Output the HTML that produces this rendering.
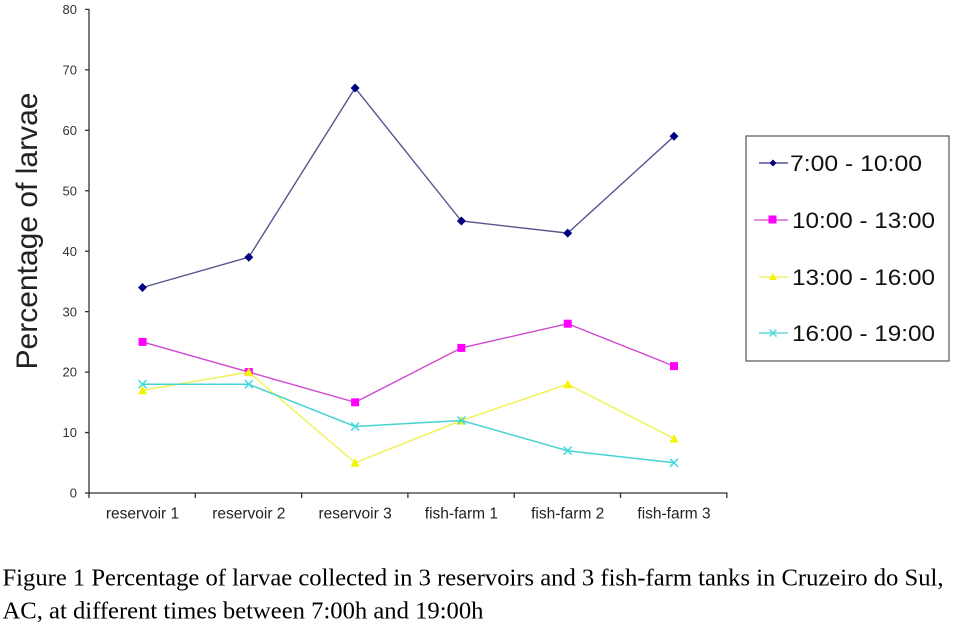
<!DOCTYPE html>
<html>
<head>
<meta charset="utf-8">
<style>
  html, body { margin:0; padding:0; background:#fff; }
  svg { display:block; }
</style>
</head>
<body>
<svg width="974" height="628" viewBox="0 0 974 628" xmlns="http://www.w3.org/2000/svg">
  <rect width="974" height="628" fill="#fff"/>

  <!-- Axes -->
  <g stroke="#333" stroke-width="1.3" fill="none">
    <line x1="89" y1="9" x2="89" y2="493"/>
    <line x1="89" y1="493" x2="727.5" y2="493"/>
    <!-- y ticks -->
    <line x1="85" y1="493" x2="89" y2="493"/>
    <line x1="85" y1="432.55" x2="89" y2="432.55"/>
    <line x1="85" y1="372.1" x2="89" y2="372.1"/>
    <line x1="85" y1="311.65" x2="89" y2="311.65"/>
    <line x1="85" y1="251.2" x2="89" y2="251.2"/>
    <line x1="85" y1="190.75" x2="89" y2="190.75"/>
    <line x1="85" y1="130.3" x2="89" y2="130.3"/>
    <line x1="85" y1="69.85" x2="89" y2="69.85"/>
    <line x1="85" y1="9.4" x2="89" y2="9.4"/>
    <!-- x ticks -->
    <line x1="89" y1="493" x2="89" y2="498"/>
    <line x1="195.3" y1="493" x2="195.3" y2="498"/>
    <line x1="301.6" y1="493" x2="301.6" y2="498"/>
    <line x1="407.9" y1="493" x2="407.9" y2="498"/>
    <line x1="514.2" y1="493" x2="514.2" y2="498"/>
    <line x1="620.5" y1="493" x2="620.5" y2="498"/>
    <line x1="726.8" y1="493" x2="726.8" y2="498"/>
  </g>

  <!-- Y tick labels -->
  <g font-family="Liberation Sans, Arial, sans-serif" font-size="13" fill="#333" text-anchor="end">
    <text x="77" y="497.6">0</text>
    <text x="77" y="437.2">10</text>
    <text x="77" y="376.7">20</text>
    <text x="77" y="316.3">30</text>
    <text x="77" y="255.8">40</text>
    <text x="77" y="195.4">50</text>
    <text x="77" y="134.9">60</text>
    <text x="77" y="74.5">70</text>
    <text x="77" y="14">80</text>
  </g>

  <!-- X labels -->
  <g font-family="Liberation Sans, Arial, sans-serif" font-size="15.5" fill="#222" text-anchor="middle">
    <text x="142.5" y="518.5">reservoir 1</text>
    <text x="248.8" y="518.5">reservoir 2</text>
    <text x="355.1" y="518.5">reservoir 3</text>
    <text x="461.4" y="518.5">fish-farm 1</text>
    <text x="567.7" y="518.5">fish-farm 2</text>
    <text x="674" y="518.5">fish-farm 3</text>
  </g>

  <!-- Y axis title -->
  <text transform="translate(37,231) rotate(-90)" font-family="Liberation Sans, Arial, sans-serif" font-size="30" fill="#222" text-anchor="middle" textLength="277" lengthAdjust="spacingAndGlyphs">Percentage of larvae</text>

  <!-- Series 1: 7-10 navy diamonds -->
  <polyline fill="none" stroke="#55558f" stroke-width="1.4" points="142.5,287.5 248.8,257.2 355.1,88 461.4,221 567.7,233.1 674,136.3"/>
  <g fill="#000080">
    <polygon points="142.5,283 147,287.5 142.5,292 138,287.5"/>
    <polygon points="248.8,252.7 253.3,257.2 248.8,261.7 244.3,257.2"/>
    <polygon points="355.1,83.5 359.6,88 355.1,92.5 350.6,88"/>
    <polygon points="461.4,216.5 465.9,221 461.4,225.5 456.9,221"/>
    <polygon points="567.7,228.6 572.2,233.1 567.7,237.6 563.2,233.1"/>
    <polygon points="674,131.8 678.5,136.3 674,140.8 669.5,136.3"/>
  </g>

  <!-- Series 2: 10-13 magenta squares -->
  <polyline fill="none" stroke="#d048d0" stroke-width="1.4" points="142.5,341.9 248.8,372.1 355.1,402.3 461.4,347.9 567.7,323.7 674,366.1"/>
  <g fill="#ff00ff">
    <rect x="138.5" y="337.9" width="8" height="8"/>
    <rect x="244.8" y="368.1" width="8" height="8"/>
    <rect x="351.1" y="398.3" width="8" height="8"/>
    <rect x="457.4" y="343.9" width="8" height="8"/>
    <rect x="563.7" y="319.7" width="8" height="8"/>
    <rect x="670" y="362.1" width="8" height="8"/>
  </g>

  <!-- Series 3: 13-16 yellow triangles -->
  <polyline fill="none" stroke="#f2f25a" stroke-width="1.5" points="142.5,390.2 248.8,372.1 355.1,462.8 461.4,420.5 567.7,384.2 674,438.6"/>
  <g fill="#f5f500">
    <polygon points="142.5,385.7 147,394.2 138,394.2"/>
    <polygon points="248.8,367.6 253.3,376.1 244.3,376.1"/>
    <polygon points="355.1,458.3 359.6,466.8 350.6,466.8"/>
    <polygon points="461.4,416 465.9,424.5 456.9,424.5"/>
    <polygon points="567.7,379.7 572.2,388.2 563.2,388.2"/>
    <polygon points="674,434.1 678.5,442.6 669.5,442.6"/>
  </g>

  <!-- Series 4: 16-19 cyan x -->
  <polyline fill="none" stroke="#48d2d2" stroke-width="1.5" points="142.5,384.2 248.8,384.2 355.1,426.5 461.4,420.5 567.7,450.7 674,462.8"/>
  <g stroke="#40dcdc" stroke-width="1.5" fill="none">
    <path d="M138.5,380.2 L146.5,388.2 M146.5,380.2 L138.5,388.2"/>
    <path d="M244.8,380.2 L252.8,388.2 M252.8,380.2 L244.8,388.2"/>
    <path d="M351.1,422.5 L359.1,430.5 M359.1,422.5 L351.1,430.5"/>
    <path d="M457.4,416.5 L465.4,424.5 M465.4,416.5 L457.4,424.5"/>
    <path d="M563.7,446.7 L571.7,454.7 M571.7,446.7 L563.7,454.7"/>
    <path d="M670,458.8 L678,466.8 M678,458.8 L670,466.8"/>
  </g>

  <!-- Legend -->
  <rect x="746" y="136" width="203" height="225" fill="#fff" stroke="#555" stroke-width="1.2"/>
  <g font-family="Liberation Sans, Arial, sans-serif" font-size="22" fill="#111">
    <line x1="759" y1="163" x2="788" y2="163" stroke="#333388" stroke-width="1.3"/>
    <polygon points="773,159.5 776.5,163 773,166.5 769.5,163" fill="#000080"/>
    <text x="790" y="171" textLength="132" lengthAdjust="spacingAndGlyphs">7:00 - 10:00</text>

    <line x1="754" y1="220" x2="788" y2="220" stroke="#d048d0" stroke-width="1.3"/>
    <rect x="768.5" y="215.5" width="8" height="8" fill="#ff00ff"/>
    <text x="792" y="228" textLength="143" lengthAdjust="spacingAndGlyphs">10:00 - 13:00</text>

    <line x1="759" y1="277" x2="788" y2="277" stroke="#eeee50" stroke-width="1.3"/>
    <polygon points="773,273 777,280 769,280" fill="#f5f500"/>
    <text x="792" y="285" textLength="143" lengthAdjust="spacingAndGlyphs">13:00 - 16:00</text>

    <line x1="759" y1="333" x2="788" y2="333" stroke="#48d2d2" stroke-width="1.3"/>
    <path d="M769.5,329.5 L776.5,336.5 M776.5,329.5 L769.5,336.5" stroke="#40dcdc" stroke-width="1.4"/>
    <text x="792" y="341" textLength="143" lengthAdjust="spacingAndGlyphs">16:00 - 19:00</text>
  </g>

  <!-- Caption -->
  <g font-family="Liberation Serif, Times New Roman, serif" font-size="24" fill="#000">
    <text x="2.5" y="585.7" textLength="941" lengthAdjust="spacingAndGlyphs">Figure 1 Percentage of larvae collected in 3 reservoirs and 3 fish-farm tanks in Cruzeiro do Sul,</text>
    <text x="2.5" y="618.3" textLength="481" lengthAdjust="spacingAndGlyphs">AC, at different times between 7:00h and 19:00h</text>
  </g>
</svg>
</body>
</html>
